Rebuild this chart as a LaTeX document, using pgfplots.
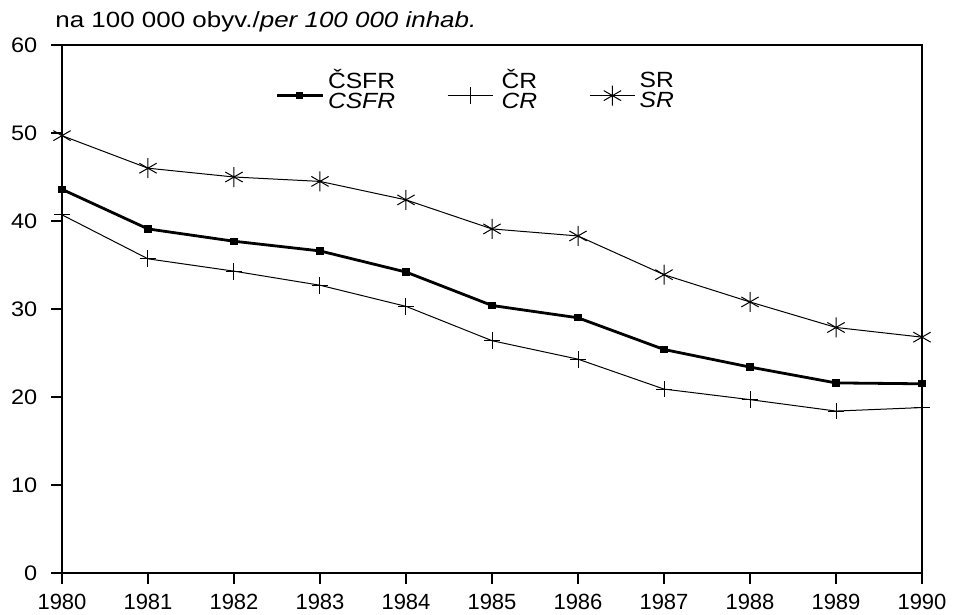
\documentclass[border=0pt]{standalone}
\usepackage{fontspec}
\setmainfont{Liberation Sans}
\newfontfamily\widefont{Liberation Sans}[FakeStretch=1.12]
\newfontfamily\titlefont{Liberation Sans}[FakeStretch=1.18]
\usepackage{pgfplots}
\pgfplotsset{compat=1.18}
\newcommand{\lent}[2]{{\widefont\fontsize{11}{13}\selectfont\begin{tabular}{@{}c@{}}#1\\[-3pt]\textit{#2}\end{tabular}}}
\begin{document}
\fontsize{11}{13.2}\selectfont
\begin{tikzpicture}
\useasboundingbox (-31pt,-21pt) rectangle (446.5pt,286.5pt);
\begin{axis}[
  at={(0,0)}, anchor=south west,
  width=430pt, height=264pt, scale only axis,
  xmin=1980, xmax=1990, ymin=0, ymax=60,
  xtick={1980,1981,...,1990}, ytick={0,10,...,60},
  tick align=outside, tick pos=left,
  major tick length=5.5pt,
  axis line style={line width=0.7pt},
  tick style={line width=0.6pt, black},
  /pgf/number format/assume math mode=true,
  x tick label style={/pgf/number format/1000 sep={}, yshift=-1pt, font=\fontsize{11}{13}\selectfont},
  y tick label style={xshift=-3pt, font=\widefont\fontsize{10.5}{13}\selectfont},
  legend columns=3,
  legend style={draw=none, fill=none, inner sep=0pt, at={(0.248,0.962)}, anchor=north west,
    /tikz/every even column/.append style={column sep=24pt}},
  legend cell align=left,
  legend image code/.code={\draw[mark repeat=2, mark phase=2, yshift=-5pt, #1]
      plot coordinates {(0cm,0cm) (0.4cm,0cm) (0.8cm,0cm)};},
  clip=false,
]
\addplot[black, line width=1.4pt, mark=square*, mark size=1.1pt] coordinates {
(1980,43.6) (1981,39.1) (1982,37.7) (1983,36.6) (1984,34.2) (1985,30.4)
(1986,29.0) (1987,25.4) (1988,23.4) (1989,21.6) (1990,21.5)};
\addlegendentry{\lent{ČSFR}{CSFR}}
\addplot[black, line width=0.5pt, mark=+, mark size=4.2pt, mark options={line width=0.5pt}] coordinates {
(1980,40.7) (1981,35.7) (1982,34.3) (1983,32.7) (1984,30.3) (1985,26.4)
(1986,24.3) (1987,20.9) (1988,19.7) (1989,18.4) (1990,18.8)};
\addlegendentry{\hspace{2pt}\lent{ČR}{CR}\hspace{6pt}}
\addplot[black, line width=0.5pt, mark=asterisk, mark size=5pt, mark options={line width=0.5pt}] coordinates {
(1980,49.7) (1981,46.0) (1982,45.0) (1983,44.5) (1984,42.4) (1985,39.1)
(1986,38.3) (1987,33.9) (1988,30.8) (1989,27.9) (1990,26.8)};
\addlegendentry{\lent{SR}{SR}}
\end{axis}
\node[anchor=base west, inner sep=0pt] at (-3.5pt,272.5pt) {\titlefont na 100 000 obyv./\textit{per 100 000 inhab.}};
\end{tikzpicture}
\end{document}
